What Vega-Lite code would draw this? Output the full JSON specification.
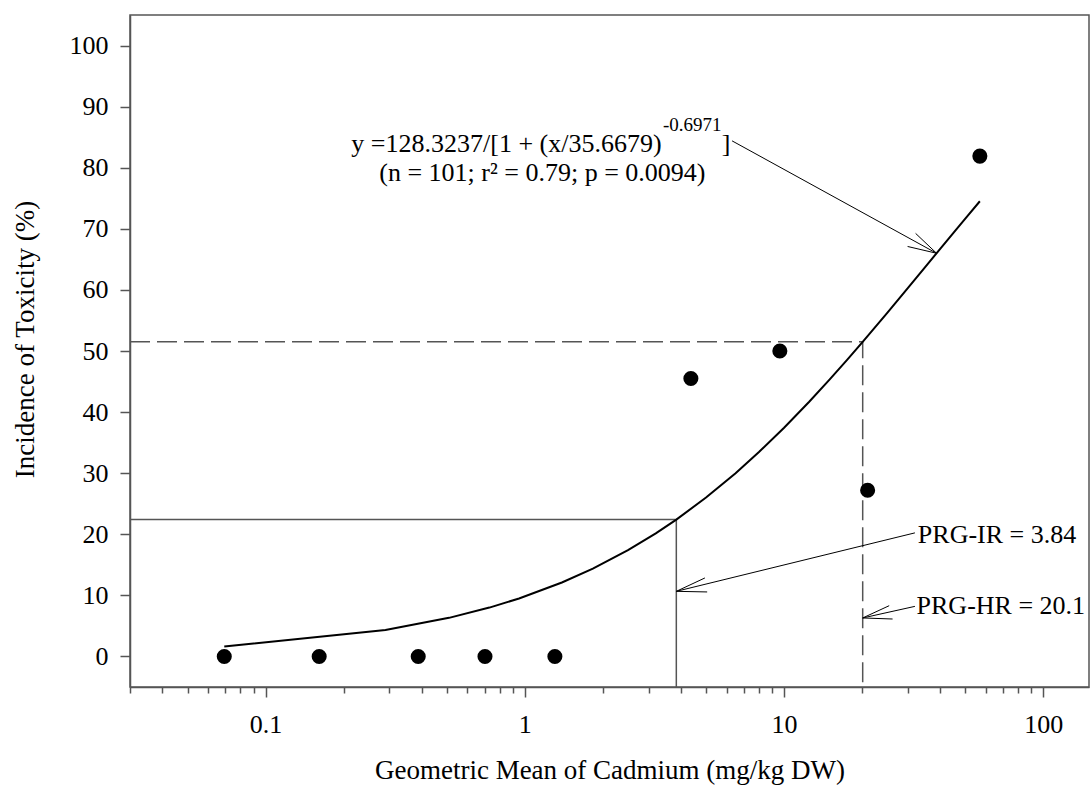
{
  "$schema": "https://vega.github.io/schema/vega-lite/v6.json",
  "width": 959,
  "height": 672,
  "autosize": {"type": "none"},
  "padding": {"left": 130, "top": 15, "right": 1, "bottom": 110},
  "background": "white",
  "config": {
    "view": {"stroke": "#555555", "strokeWidth": 1.5},
    "font": "Liberation Serif",
    "axis": {"labelFont": "Liberation Serif", "titleFont": "Liberation Serif", "labelColor": "black", "titleColor": "black", "titleFontWeight": "normal", "domainColor": "#555555", "tickColor": "#555555", "domainWidth": 1.5, "tickWidth": 1.5, "grid": false}
  },
  "datasets": {
    "points": [
      {"x": 0.0693, "y": 0}, {"x": 0.161, "y": 0}, {"x": 0.388, "y": 0}, {"x": 0.702, "y": 0}, {"x": 1.306, "y": 0},
      {"x": 4.37, "y": 45.5}, {"x": 9.63, "y": 50.0}, {"x": 21.0, "y": 27.2}, {"x": 56.9, "y": 81.9}
    ],
    "curve": [
      {"x": 0.0693, "y": 1.64}, {"x": 0.29, "y": 4.33}, {"x": 0.51, "y": 6.32}, {"x": 0.73, "y": 8.00}, {"x": 0.95, "y": 9.49},
      {"x": 1.39, "y": 12.10}, {"x": 1.83, "y": 14.37}, {"x": 2.5, "y": 17.39}, {"x": 3.2, "y": 20.15}, {"x": 3.84, "y": 22.40},
      {"x": 5, "y": 26.01}, {"x": 6.5, "y": 30.00}, {"x": 8, "y": 33.46}, {"x": 10, "y": 37.45}, {"x": 12.5, "y": 41.70},
      {"x": 15, "y": 45.36}, {"x": 17.5, "y": 48.55}, {"x": 20.1, "y": 51.50}, {"x": 25, "y": 56.25}, {"x": 30, "y": 60.29},
      {"x": 35, "y": 63.73}, {"x": 40, "y": 66.72}, {"x": 45, "y": 69.34}, {"x": 50, "y": 71.68}, {"x": 56.9, "y": 74.51}
    ],
    "irLine": [
      {"x": 0.03, "y": 22.4, "o": 1}, {"x": 3.84, "y": 22.4, "o": 2}, {"x": 3.84, "y": -5, "o": 3}
    ],
    "hrLine": [
      {"x": 0.03, "y": 51.5, "o": 1}, {"x": 20.1, "y": 51.5, "o": 2}, {"x": 20.1, "y": -5, "o": 3}
    ],
    "arrows": [
      {"x": 6.3, "y": 84.4, "x2": 38.74, "y2": 66.0},
      {"x": 32.16, "y": 69.25, "x2": 38.74, "y2": 66.0},
      {"x": 29.95, "y": 67.11, "x2": 38.74, "y2": 66.0},
      {"x": 31.96, "y": 20.23, "x2": 3.84, "y2": 10.66},
      {"x": 4.95, "y": 12.85, "x2": 3.84, "y2": 10.66},
      {"x": 5.05, "y": 10.56, "x2": 3.84, "y2": 10.66},
      {"x": 31.96, "y": 8.2, "x2": 20.1, "y2": 6.3},
      {"x": 25.43, "y": 8.31, "x2": 20.1, "y2": 6.3},
      {"x": 26.21, "y": 6.13, "x2": 20.1, "y2": 6.3}
    ],
    "eqMain": [{"x": 3.37, "y": 82.52, "t": "y =128.3237/[1 + (x/35.6679)"}],
    "eqSup": [{"x": 3.409, "y": 86.07, "t": "-0.6971"}],
    "eqClose": [{"x": 5.75, "y": 82.52, "t": "]"}],
    "eqLine2": [{"x": 1.169, "y": 77.87, "t": "(n = 101; r² = 0.79; p = 0.0094)"}],
    "labels": [
      {"x": 32.8, "y": 19.95, "t": "PRG-IR = 3.84"},
      {"x": 32.43, "y": 8.2, "t": "PRG-HR = 20.1"}
    ]
  },
  "layer": [
    {
      "data": {"name": "irLine"},
      "mark": {"type": "line", "color": "#555555", "strokeWidth": 1.5},
      "encoding": {
        "x": {"field": "x", "type": "quantitative", "scale": {"type": "log", "domain": [0.03, 150], "nice": false},
              "axis": {"orient": "bottom", "values": [0.03, 0.04, 0.05, 0.06, 0.07, 0.08, 0.09, 0.2, 0.3, 0.4, 0.5, 0.6, 0.7, 0.8, 0.9, 2, 3, 4, 5, 6, 7, 8, 9, 20, 30, 40, 50, 60, 70, 80, 90],
                       "labels": false, "domain": false, "tickSize": 6, "title": null}},
        "y": {"field": "y", "type": "quantitative", "scale": {"domain": [-5, 105], "nice": false, "zero": false},
              "axis": {"orient": "left", "values": [0, 10, 20, 30, 40, 50, 60, 70, 80, 90, 100], "tickSize": 10, "labelPadding": 12, "labelFontSize": 26,
                       "title": "Incidence of Toxicity (%)", "titleFontSize": 27, "titlePadding": 30, "titleY": 324}},
        "order": {"field": "o"}
      }
    },
    {
      "data": {"name": "hrLine"},
      "mark": {"type": "line", "color": "#555555", "strokeWidth": 1.5, "strokeDash": [20, 7]},
      "encoding": {
        "x": {"field": "x", "type": "quantitative", "axis": null},
        "y": {"field": "y", "type": "quantitative", "axis": null},
        "order": {"field": "o"}
      }
    },
    {
      "data": {"name": "curve"},
      "mark": {"type": "line", "color": "black", "strokeWidth": 2},
      "encoding": {
        "x": {"field": "x", "type": "quantitative", "axis": null},
        "y": {"field": "y", "type": "quantitative", "axis": null}
      }
    },
    {
      "data": {"name": "points"},
      "mark": {"type": "point", "filled": true, "shape": "circle", "color": "black", "opacity": 1, "size": 227},
      "encoding": {
        "x": {"field": "x", "type": "quantitative",
              "axis": {"orient": "bottom", "values": [0.1, 1, 10, 100], "format": "~g", "tickSize": 10, "labelFontSize": 26, "labelPadding": 14,
                       "title": "Geometric Mean of Cadmium (mg/kg DW)", "titleFontSize": 27, "titlePadding": 20}},
        "y": {"field": "y", "type": "quantitative", "axis": null}
      }
    },
    {
      "data": {"name": "arrows"},
      "mark": {"type": "rule", "color": "black", "strokeWidth": 1},
      "encoding": {
        "x": {"field": "x", "type": "quantitative", "axis": null},
        "y": {"field": "y", "type": "quantitative", "axis": null},
        "x2": {"field": "x2"},
        "y2": {"field": "y2"}
      }
    },
    {
      "data": {"name": "eqMain"},
      "mark": {"type": "text", "align": "right", "baseline": "alphabetic", "fontSize": 26, "font": "Liberation Serif", "color": "black"},
      "encoding": {
        "x": {"field": "x", "type": "quantitative", "axis": null},
        "y": {"field": "y", "type": "quantitative", "axis": null},
        "text": {"field": "t"}
      }
    },
    {
      "data": {"name": "eqSup"},
      "mark": {"type": "text", "align": "left", "baseline": "alphabetic", "fontSize": 19, "font": "Liberation Serif", "color": "black"},
      "encoding": {
        "x": {"field": "x", "type": "quantitative", "axis": null},
        "y": {"field": "y", "type": "quantitative", "axis": null},
        "text": {"field": "t"}
      }
    },
    {
      "data": {"name": "eqClose"},
      "mark": {"type": "text", "align": "left", "baseline": "alphabetic", "fontSize": 26, "font": "Liberation Serif", "color": "black"},
      "encoding": {
        "x": {"field": "x", "type": "quantitative", "axis": null},
        "y": {"field": "y", "type": "quantitative", "axis": null},
        "text": {"field": "t"}
      }
    },
    {
      "data": {"name": "eqLine2"},
      "mark": {"type": "text", "align": "center", "baseline": "alphabetic", "fontSize": 26, "font": "Liberation Serif", "color": "black"},
      "encoding": {
        "x": {"field": "x", "type": "quantitative", "axis": null},
        "y": {"field": "y", "type": "quantitative", "axis": null},
        "text": {"field": "t"}
      }
    },
    {
      "data": {"name": "labels"},
      "mark": {"type": "text", "align": "left", "baseline": "middle", "fontSize": 26, "font": "Liberation Serif", "color": "black"},
      "encoding": {
        "x": {"field": "x", "type": "quantitative", "axis": null},
        "y": {"field": "y", "type": "quantitative", "axis": null},
        "text": {"field": "t"}
      }
    }
  ],
  "resolve": {"axis": {"x": "independent", "y": "independent"}}
}
